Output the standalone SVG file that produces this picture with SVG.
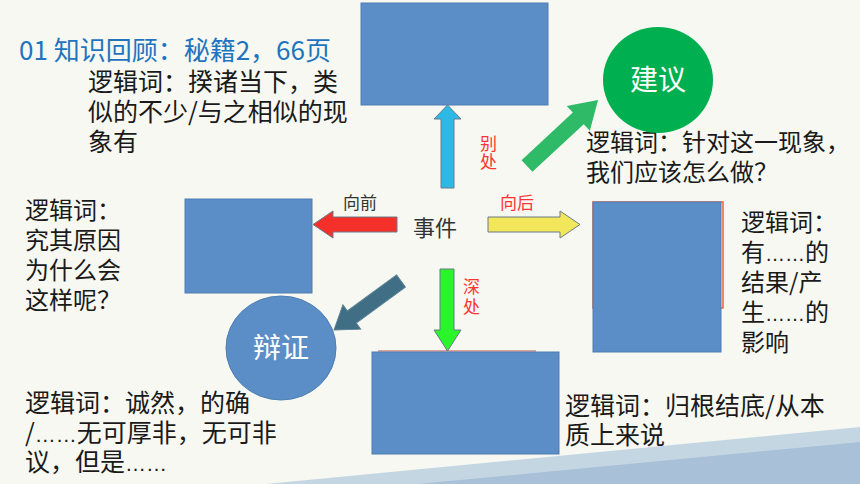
<svg xmlns="http://www.w3.org/2000/svg" width="860" height="484" viewBox="0 0 860 484">
<style>
.t{font-family:"Noto Sans CJK SC","Noto Sans",sans-serif;fill:#1a1a1a}
.el{font-family:"Liberation Sans",sans-serif}
.box{fill:#5b8ec6;stroke:#4f7fb3;stroke-width:1}
.lbl{font-family:"Noto Sans CJK SC","Noto Sans",sans-serif;font-size:17px}
.arr{stroke:#6b7a8a;stroke-width:1}
.wt{font-family:"Noto Sans CJK SC","Noto Sans",sans-serif;fill:#ffffff;font-size:28px;text-anchor:middle}
</style>
<rect width="860" height="484" fill="#f6f8f1"/>
<polygon points="266,484 860,427 860,484" fill="#c5d6e3"/>
<polygon points="418,484 860,442 860,484" fill="#a8c1d8"/>

<text class="t" x="19" y="60" font-size="26" style="fill:#1f74c0">01 知识回顾：秘籍2，66页</text>

<text class="t" font-size="25" x="88" y="91">逻辑词：揆诸当下，类<tspan x="88" dy="30">似的不少/与之相似的现</tspan><tspan x="88" dy="30">象有</tspan></text>

<text class="t" font-size="24" x="25" y="219">逻辑词：<tspan x="25" dy="30">究其原因</tspan><tspan x="25" dy="30">为什么会</tspan><tspan x="25" dy="30">这样呢？</tspan></text>

<text class="t" font-size="25" x="25" y="412">逻辑词：诚然，的确<tspan x="25" dy="30">/</tspan><tspan class="el" font-size="21">……</tspan><tspan>无可厚非，无可非</tspan><tspan x="25" dy="29">议，但是</tspan><tspan class="el" font-size="21">……</tspan></text>

<text class="t" font-size="24" x="586" y="151">逻辑词：针对这一现象，<tspan x="586" dy="30">我们应该怎么做？</tspan></text>

<text class="t" font-size="24" x="741" y="231">逻辑词：<tspan x="741" dy="30">有</tspan><tspan class="el" font-size="20">……</tspan><tspan>的</tspan><tspan x="741" dy="30">结果/产</tspan><tspan x="741" dy="30">生</tspan><tspan class="el" font-size="20">……</tspan><tspan>的</tspan><tspan x="741" dy="30">影响</tspan></text>

<text class="t" font-size="25" x="565" y="415">逻辑词：归根结底/从本<tspan x="565" dy="29">质上来说</tspan></text>

<g id="node-top"><rect class="box" x="361" y="3" width="187" height="102"/></g>
<g id="node-left"><rect class="box" x="185" y="199" width="127" height="94"/></g>
<g id="node-right">
<rect x="593" y="202" width="130" height="106" fill="none" stroke="#f0613a" stroke-width="1.5"/>
<rect class="box" x="593" y="202" width="128" height="150"/>
</g>
<g id="node-bottom">
<line x1="378" y1="351" x2="536" y2="351" stroke="#c0504d" stroke-width="1"/>
<rect class="box" x="372" y="352" width="187" height="102"/>
</g>
<g id="node-jianyi">
<ellipse cx="658" cy="80" rx="55" ry="53" fill="#00b050"/>
<text class="wt" x="658" y="90">建议</text>
</g>
<g id="node-bianzheng">
<ellipse cx="281" cy="348" rx="55" ry="52" fill="#5b8ec6" stroke="#4f7fb3" stroke-width="1"/>
<text class="wt" x="281" y="358">辩证</text>
</g>
<g id="node-event">
<text class="t" x="435" y="236" font-size="22" text-anchor="middle" style="fill:#333333">事件</text>
</g>

<g id="connectors">
<polygon class="arr" fill="#2db9e6" points="441,188 441,119 434,119 447.5,105 461,119 454,119 454,188"/>
<polygon class="arr" fill="#f5302a" points="397,217 333,217 333,211 313,224.5 333,238 333,232 397,232"/>
<polygon class="arr" fill="#f2e75a" points="488,217 560,217 560,211 580,224.5 560,238 560,232 488,232"/>
<polygon class="arr" fill="#2af52a" points="440,269 440,330 434,330 447.5,351 461,330 454,330 454,269"/>
<polygon fill="#3f6e85" stroke="#5a7f95" stroke-width="1" transform="translate(401,281) rotate(143.8)" points="0,-7.5 61,-7.5 61,-15 83,0 61,15 61,7.5 0,7.5"/>
<polygon fill="#2eba67" transform="translate(527,166) rotate(-42.9)" points="0,-8 70,-8 70,-17 97,0 70,17 70,8 0,8"/>
<g class="lbl" fill="#ff3333">
<text x="480" y="150">别<tspan x="480" dy="18">处</tspan></text>
<text x="500" y="209">向后</text>
<text x="463" y="293">深<tspan x="463" dy="20">处</tspan></text>
</g>
<text class="lbl" x="343" y="209" font-size="17" fill="#333333">向前</text>
</g>
</svg>
